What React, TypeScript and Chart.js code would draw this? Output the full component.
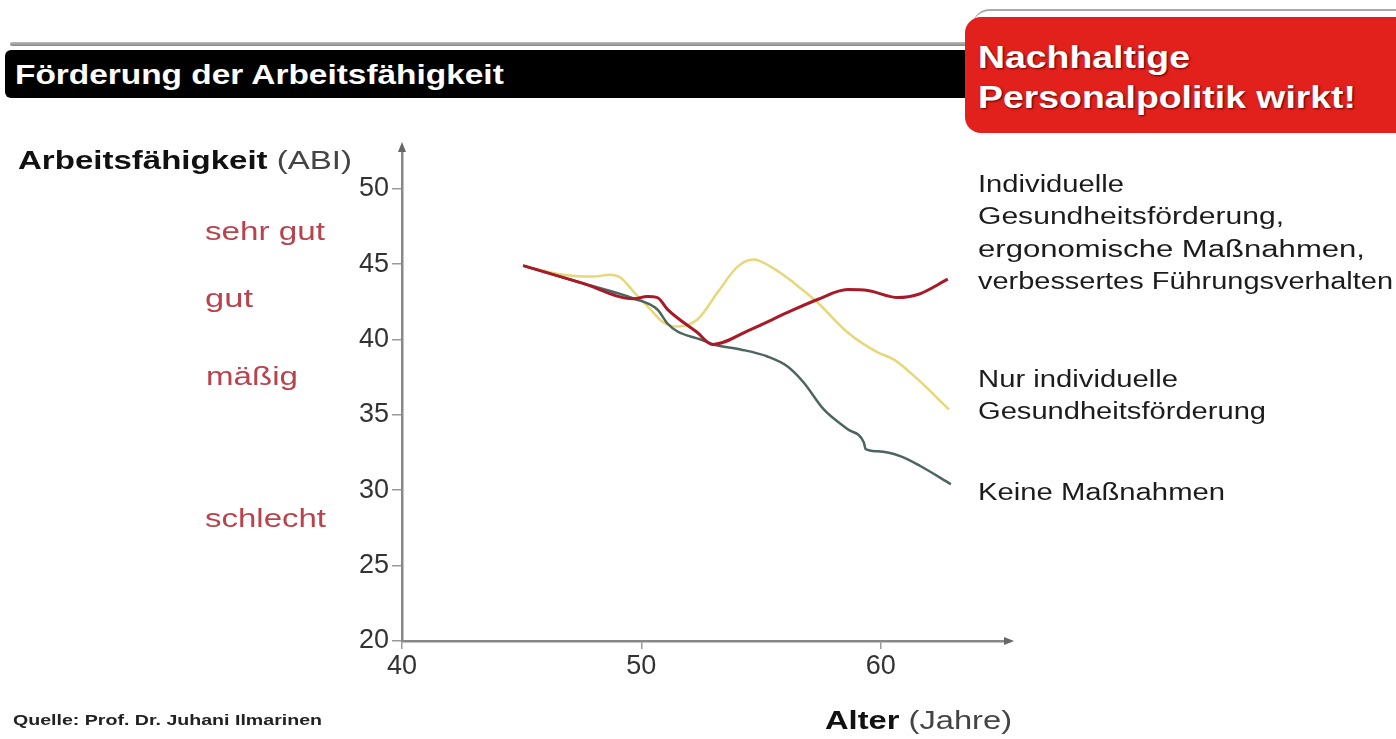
import React, { useEffect, useRef } from "react";
import { Chart, registerables } from "chart.js";

Chart.register(...registerables);

// ---- data ----
const ageRed = [45.06, 47.5, 49.67, 50.25, 50.67, 51.09, 52.34, 52.97, 54.56, 56.11, 57.36, 58.62, 59.46, 60.71, 61.55, 62.8];
const abiRed = [44.9, 43.75, 42.7, 42.85, 42.78, 42.0, 40.46, 39.67, 40.66, 41.79, 42.65, 43.31, 43.25, 42.78, 42.98, 44.0];

const ageYellow = [45.06, 46.74, 47.99, 48.7, 49.12, 49.67, 50.38, 50.92, 51.51, 52.34, 53.18, 54.02, 54.69, 55.4, 56.36, 57.36, 58.62, 59.87, 60.54, 61.55, 62.85];
const abiYellow = [44.9, 44.3, 44.17, 44.3, 44.11, 43.18, 41.99, 41.13, 40.86, 41.32, 43.11, 44.83, 45.3, 44.83, 43.77, 42.45, 40.46, 39.14, 38.68, 37.35, 35.36];

const ageGreen = [45.06, 47.5, 49.67, 50.67, 51.09, 51.51, 52.47, 53.01, 54.14, 55.27, 56.11, 56.78, 57.62, 58.62, 59.29, 59.37, 59.87, 60.84, 61.67, 62.93];
const abiGreen = [44.9, 43.75, 42.72, 41.99, 41.06, 40.53, 40.0, 39.67, 39.34, 38.87, 38.21, 37.15, 35.36, 34.04, 33.18, 32.72, 32.58, 32.25, 31.59, 30.4];

const xTicks = [40, 50, 60];
const yTicks = [20, 25, 30, 35, 40, 45, 50];

const FONT = '"Liberation Sans", Arial, sans-serif';

const measureCtx = typeof document !== "undefined" ? document.createElement("canvas").getContext("2d") : null;
function measure(parts: { text: string; bold?: boolean }[], size: number) {
  let w = 0;
  for (const p of parts) {
    if (!measureCtx) continue;
    measureCtx.font = `${p.bold ? "bold " : ""}${size}px ${FONT}`;
    w += measureCtx.measureText(p.text).width;
  }
  return w || 1;
}

type Part = { text: string; bold?: boolean; color?: string };
function Txt(props: { x: number; cy: number; size: number; width: number; parts: Part[]; color?: string; shadow?: string }) {
  const { x, cy, size, width, parts, color, shadow } = props;
  const lh = Math.round(size * 1.2);
  const sx = width / measure(parts, size);
  return (
    <div
      style={{
        position: "absolute",
        left: x,
        top: cy - lh / 2,
        height: lh,
        lineHeight: `${lh}px`,
        fontSize: size,
        fontFamily: FONT,
        whiteSpace: "nowrap",
        color: color || "#222",
        transform: `scaleX(${sx})`,
        transformOrigin: "left center",
        textShadow: shadow,
      }}
    >
      {parts.map((p, i) => (
        <span key={i} style={{ fontWeight: p.bold ? "bold" : "normal", color: p.color }}>
          {p.text}
        </span>
      ))}
    </div>
  );
}

const arrowPlugin = {
  id: "arrows",
  afterDraw(chart: any) {
    const { ctx, chartArea } = chart;
    ctx.save();
    ctx.fillStyle = "#666";
    ctx.beginPath();
    ctx.moveTo(chartArea.left, chartArea.top - 6);
    ctx.lineTo(chartArea.left - 4, chartArea.top + 4);
    ctx.lineTo(chartArea.left + 4, chartArea.top + 4);
    ctx.closePath();
    ctx.fill();
    ctx.beginPath();
    ctx.moveTo(chartArea.right + 4, chartArea.bottom);
    ctx.lineTo(chartArea.right - 6, chartArea.bottom - 4);
    ctx.lineTo(chartArea.right - 6, chartArea.bottom + 4);
    ctx.closePath();
    ctx.fill();
    ctx.restore();
  },
};

function toPts(xs: number[], ys: number[]) {
  return xs.map((x, i) => ({ x, y: ys[i] }));
}

export default function App() {
  const ref = useRef<HTMLCanvasElement | null>(null);
  useEffect(() => {
    if (!ref.current) return;
    const chart = new Chart(ref.current, {
      type: "line",
      data: {
        datasets: [
          {
            label: "Individuelle Gesundheitsförderung, ergonomische Maßnahmen, verbessertes Führungsverhalten",
            data: toPts(ageRed, abiRed),
            borderColor: "#a81a28",
            borderWidth: 3,
            pointRadius: 0,
            cubicInterpolationMode: "monotone",
          },
          {
            label: "Keine Maßnahmen",
            data: toPts(ageGreen, abiGreen),
            borderColor: "#4d6460",
            borderWidth: 2.5,
            pointRadius: 0,
            cubicInterpolationMode: "monotone",
          },
          {
            label: "Nur individuelle Gesundheitsförderung",
            data: toPts(ageYellow, abiYellow),
            borderColor: "#e6d77a",
            borderWidth: 2.5,
            pointRadius: 0,
            cubicInterpolationMode: "monotone",
          },
        ],
      },
      options: {
        animation: false,
        responsive: false,
        layout: { padding: { top: 148, right: 386, left: 0, bottom: 0 } },
        plugins: { legend: { display: false }, tooltip: { enabled: false } },
        scales: {
          x: {
            type: "linear",
            min: 40,
            max: 65.4,
            afterBuildTicks: (s: any) => {
              s.ticks = xTicks.map((v) => ({ value: v }));
            },
            afterFit: (s: any) => {
              s.height = 98;
            },
            grid: { drawOnChartArea: false, drawTicks: true, tickLength: 8, color: "#999", lineWidth: 1.5 },
            border: { color: "#888", width: 2.5 },
            ticks: { color: "#333", font: { family: FONT, size: 27 }, padding: 1, maxRotation: 0 },
          },
          y: {
            type: "linear",
            min: 20,
            max: 52.7,
            afterBuildTicks: (s: any) => {
              s.ticks = yTicks.map((v) => ({ value: v }));
            },
            afterFit: (s: any) => {
              s.width = 402;
            },
            grid: { drawOnChartArea: false, drawTicks: true, tickLength: 10, color: "#999", lineWidth: 1.5 },
            border: { color: "#888", width: 2.5 },
            ticks: { color: "#333", font: { family: FONT, size: 27 }, padding: 3 },
          },
        },
      },
      plugins: [arrowPlugin],
    } as any);
    return () => chart.destroy();
  }, []);

  const red = "#b9434d";
  const dark = "#1c1c1c";
  return (
    <div style={{ position: "fixed", left: 0, top: 0, width: 1396, height: 739, background: "#fff", overflow: "hidden" }}>
      <div style={{ position: "absolute", left: 10, top: 42, width: 960, height: 4, background: "linear-gradient(#bbb,#888)", borderRadius: 2 }} />
      <div style={{ position: "absolute", left: 5, top: 50, width: 965, height: 48, background: "#000", borderRadius: 6 }} />
      <div style={{ position: "absolute", left: 972, top: 9, width: 440, height: 40, borderTop: "2px solid #aaa", borderRadius: "18px 0 0 0" }} />
      <div style={{ position: "absolute", left: 965, top: 17, width: 450, height: 116, background: "#e2211d", borderRadius: 16 }} />
      <Txt x={15} cy={75} size={28} width={490} color="#fff" parts={[{ text: "Förderung der Arbeitsfähigkeit", bold: true }]} />
      <Txt x={978} cy={57} size={32} width={212} color="#fff" shadow="1px 1px 2px #600" parts={[{ text: "Nachhaltige", bold: true }]} />
      <Txt x={978} cy={97} size={32} width={378} color="#fff" shadow="1px 1px 2px #600" parts={[{ text: "Personalpolitik wirkt!", bold: true }]} />

      <canvas ref={ref} width={1396} height={739} style={{ position: "absolute", left: 0, top: 0 }} />

      <Txt x={18} cy={160} size={25} width={334} parts={[{ text: "Arbeitsfähigkeit", bold: true, color: "#111" }, { text: " (ABI)", color: "#444" }]} />
      <Txt x={825} cy={720} size={26} width={187} parts={[{ text: "Alter", bold: true, color: "#111" }, { text: " (Jahre)", color: "#444" }]} />

      <Txt x={205} cy={231} size={25} width={120} color={red} parts={[{ text: "sehr gut" }]} />
      <Txt x={205} cy={298} size={25} width={48} color={red} parts={[{ text: "gut" }]} />
      <Txt x={206} cy={376} size={25} width={92} color={red} parts={[{ text: "mäßig" }]} />
      <Txt x={205} cy={518} size={25} width={121} color={red} parts={[{ text: "schlecht" }]} />

      <Txt x={978} cy={184} size={23} width={146} color={dark} parts={[{ text: "Individuelle" }]} />
      <Txt x={978} cy={216} size={23} width={306} color={dark} parts={[{ text: "Gesundheitsförderung," }]} />
      <Txt x={978} cy={249} size={23} width={387} color={dark} parts={[{ text: "ergonomische Maßnahmen," }]} />
      <Txt x={978} cy={281} size={23} width={415} color={dark} parts={[{ text: "verbessertes Führungsverhalten" }]} />
      <Txt x={978} cy={379} size={23} width={200} color={dark} parts={[{ text: "Nur individuelle" }]} />
      <Txt x={978} cy={411} size={23} width={288} color={dark} parts={[{ text: "Gesundheitsförderung" }]} />
      <Txt x={978} cy={492} size={23} width={247} color={dark} parts={[{ text: "Keine Maßnahmen" }]} />

      <Txt x={13} cy={720} size={14} width={309} color="#222" parts={[{ text: "Quelle: Prof. Dr. Juhani Ilmarinen", bold: true }]} />
    </div>
  );
}
